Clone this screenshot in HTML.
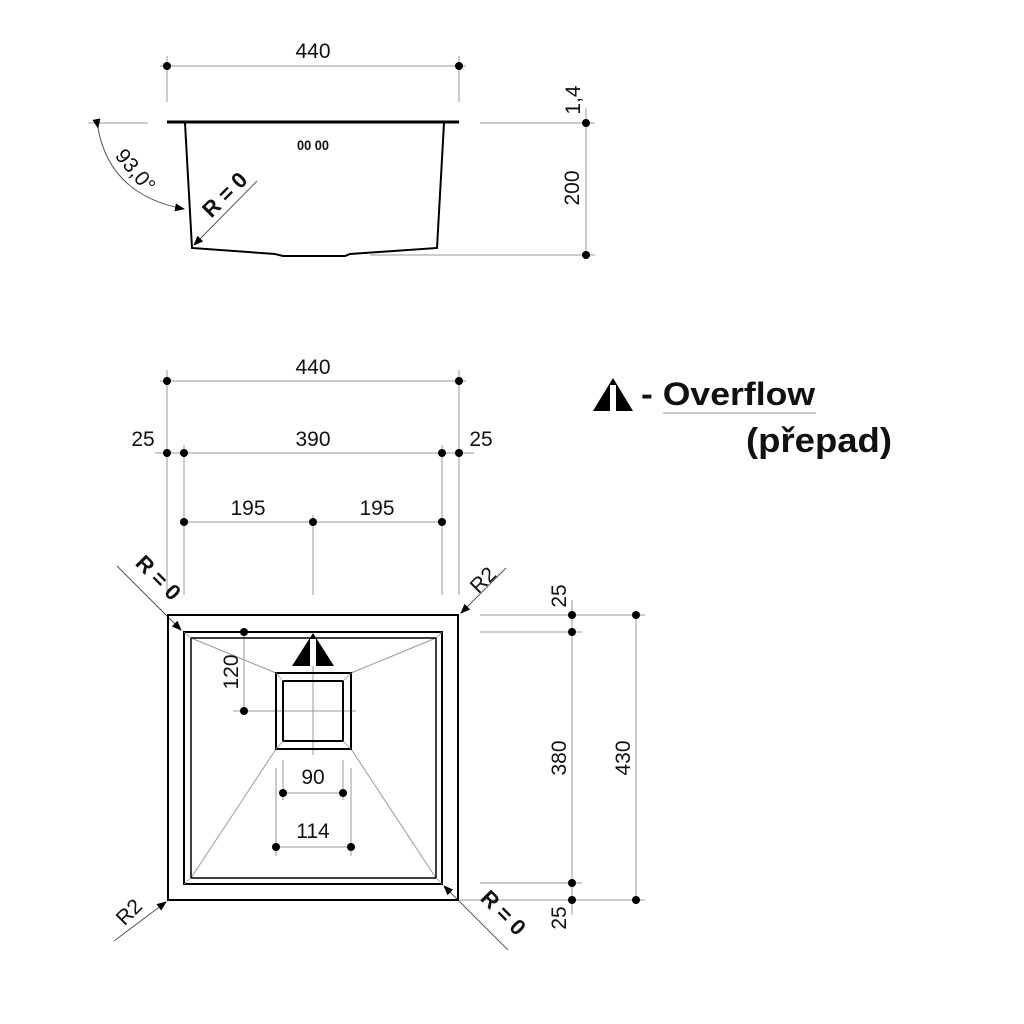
<!DOCTYPE html>
<html><head><meta charset="utf-8"><style>html,body{margin:0;padding:0;background:#fff}svg{display:block}text{font-family:"Liberation Sans",Arial,sans-serif;fill:#111}</style></head><body>
<svg width="1024" height="1024" viewBox="0 0 1024 1024" xmlns="http://www.w3.org/2000/svg">
<defs><marker id="ar" markerWidth="10" markerHeight="8" refX="9" refY="4" orient="auto" markerUnits="userSpaceOnUse"><path d="M0,0 L10,4 L0,8z" fill="#000"/></marker></defs>
<g stroke="#9a9a9a" stroke-width="1" fill="none">
<line x1="160" y1="66" x2="466" y2="66"/>
<line x1="167" y1="56" x2="167" y2="102"/><line x1="459" y1="56" x2="459" y2="102"/>
<line x1="586" y1="108" x2="586" y2="258"/>
<line x1="480" y1="123" x2="595" y2="123"/>
<line x1="370" y1="255" x2="595" y2="255"/>
<line x1="88" y1="123" x2="148" y2="123"/>
<path d="M98,128 Q110,195 184,209" stroke="#555" marker-start="url(#ar)" marker-end="url(#ar)"/>
<line x1="257" y1="181" x2="194" y2="245" stroke="#555" marker-end="url(#ar)"/>
<line x1="160" y1="381" x2="466" y2="381"/>
<line x1="155" y1="453" x2="474" y2="453"/>
<line x1="184" y1="522" x2="442" y2="522"/>
<line x1="167" y1="370" x2="167" y2="595"/>
<line x1="459" y1="370" x2="459" y2="595"/>
<line x1="184" y1="445" x2="184" y2="595"/>
<line x1="442" y1="445" x2="442" y2="595"/>
<line x1="313" y1="515" x2="313" y2="595"/>
<line x1="480" y1="615" x2="645" y2="615"/>
<line x1="480" y1="632" x2="582" y2="632"/>
<line x1="480" y1="883" x2="582" y2="883"/>
<line x1="460" y1="900" x2="645" y2="900"/>
<line x1="572" y1="600" x2="572" y2="915"/>
<line x1="636" y1="615" x2="636" y2="900"/>
<line x1="117" y1="566" x2="181" y2="630" stroke="#555" marker-end="url(#ar)"/>
<line x1="506" y1="568" x2="461" y2="613" stroke="#555" marker-end="url(#ar)"/>
<line x1="114" y1="941" x2="166" y2="902" stroke="#555" marker-end="url(#ar)"/>
<line x1="508" y1="950" x2="444" y2="886" stroke="#555" marker-end="url(#ar)"/>
<line x1="191" y1="638" x2="276" y2="673"/><line x1="436" y1="638" x2="351" y2="673"/>
<line x1="191" y1="878" x2="276" y2="749"/><line x1="436" y1="878" x2="351" y2="749"/>
<line x1="244" y1="632" x2="244" y2="711"/>
<line x1="233" y1="711" x2="356" y2="711"/>
<line x1="313" y1="660" x2="313" y2="755"/>
<line x1="283" y1="760" x2="283" y2="800"/><line x1="343" y1="760" x2="343" y2="800"/>
<line x1="276" y1="768" x2="276" y2="856"/><line x1="351" y1="768" x2="351" y2="856"/>
<line x1="283" y1="793" x2="343" y2="793"/>
<line x1="276" y1="847" x2="351" y2="847"/>
<line x1="663" y1="413" x2="816" y2="413"/>
</g>
<g stroke="#000" fill="none">
<line x1="167" y1="122" x2="459" y2="122" stroke-width="3"/>
<path d="M185,123 L192,248 L275,254 L283,256 L345,256 L350,254 L437,248 L444,123" stroke-width="2"/>
<rect x="168" y="615" width="290" height="285" stroke-width="2"/>
<rect x="184" y="632" width="258" height="252" stroke-width="2"/>
<rect x="191" y="638" width="245" height="240" stroke-width="1.5"/>
<rect x="276" y="673" width="75" height="76" stroke-width="2"/>
<rect x="283" y="681" width="60" height="60" stroke-width="2"/>
</g>
<g stroke="#999" stroke-width="0.8"><line x1="184" y1="632" x2="191" y2="638"/><line x1="442" y1="632" x2="436" y2="638"/><line x1="184" y1="884" x2="191" y2="878"/><line x1="442" y1="884" x2="436" y2="878"/><line x1="276" y1="673" x2="283" y2="681"/><line x1="351" y1="673" x2="343" y2="681"/><line x1="276" y1="749" x2="283" y2="741"/><line x1="351" y1="749" x2="343" y2="741"/></g>
<text x="297" y="150" font-size="14" font-weight="bold" textLength="32" lengthAdjust="spacingAndGlyphs">00 00</text>
<path d="M313,633 L334,666 L292,666z" fill="#000"/><rect x="310" y="639" width="6" height="27" fill="#fff"/>
<path d="M613,378 L633,411 L593,411z" fill="#000"/><rect x="610" y="385" width="6" height="26" fill="#fff"/>
<g fill="#000">
<circle cx="167" cy="66" r="4"/><circle cx="459" cy="66" r="4"/>
<circle cx="586" cy="123" r="4"/><circle cx="586" cy="255" r="4"/>
<circle cx="167" cy="381" r="4"/><circle cx="459" cy="381" r="4"/>
<circle cx="167" cy="453" r="4"/><circle cx="184" cy="453" r="4"/><circle cx="442" cy="453" r="4"/><circle cx="459" cy="453" r="4"/>
<circle cx="184" cy="522" r="4"/><circle cx="313" cy="522" r="4"/><circle cx="442" cy="522" r="4"/>
<circle cx="572" cy="615" r="4"/><circle cx="572" cy="632" r="4"/><circle cx="572" cy="883" r="4"/><circle cx="572" cy="900" r="4"/>
<circle cx="636" cy="615" r="4"/><circle cx="636" cy="900" r="4"/>
<circle cx="244" cy="632" r="4"/><circle cx="244" cy="711" r="4"/>
<circle cx="283" cy="793" r="4"/><circle cx="343" cy="793" r="4"/>
<circle cx="276" cy="847" r="4"/><circle cx="351" cy="847" r="4"/>
</g>
<g font-size="21" text-anchor="middle">
<text x="313" y="58">440</text>
<text x="313" y="374">440</text>
<text x="143" y="446">25</text>
<text x="313" y="446">390</text>
<text x="481" y="446">25</text>
<text x="248" y="515">195</text>
<text x="377" y="515">195</text>
<text x="313" y="784">90</text>
<text x="313" y="838">114</text>
<text transform="translate(580,100) rotate(-90)">1,4</text>
<text transform="translate(579,188) rotate(-90)">200</text>
<text transform="translate(238,672) rotate(-90)">120</text>
<text transform="translate(566,596) rotate(-90)">25</text>
<text transform="translate(566,758) rotate(-90)">380</text>
<text transform="translate(630,758) rotate(-90)">430</text>
<text transform="translate(566,918) rotate(-90)">25</text>
<text transform="translate(130,175) rotate(50)">93,0°</text>
<text transform="translate(488,585) rotate(-45)">R2</text>
<text transform="translate(134,917) rotate(-45)">R2</text>
<text font-weight="bold" font-size="22" transform="translate(230,200) rotate(-45)">R = 0</text>
<text font-weight="bold" font-size="22" transform="translate(153,583) rotate(45)">R = 0</text>
<text font-weight="bold" font-size="22" transform="translate(498,918) rotate(45)">R = 0</text>
</g>
<text x="641" y="405" font-size="32" font-weight="bold" textLength="174" lengthAdjust="spacingAndGlyphs">- Overflow</text>
<text x="746" y="452" font-size="34" font-weight="bold" textLength="146" lengthAdjust="spacingAndGlyphs">(přepad)</text>
</svg>
</body></html>
